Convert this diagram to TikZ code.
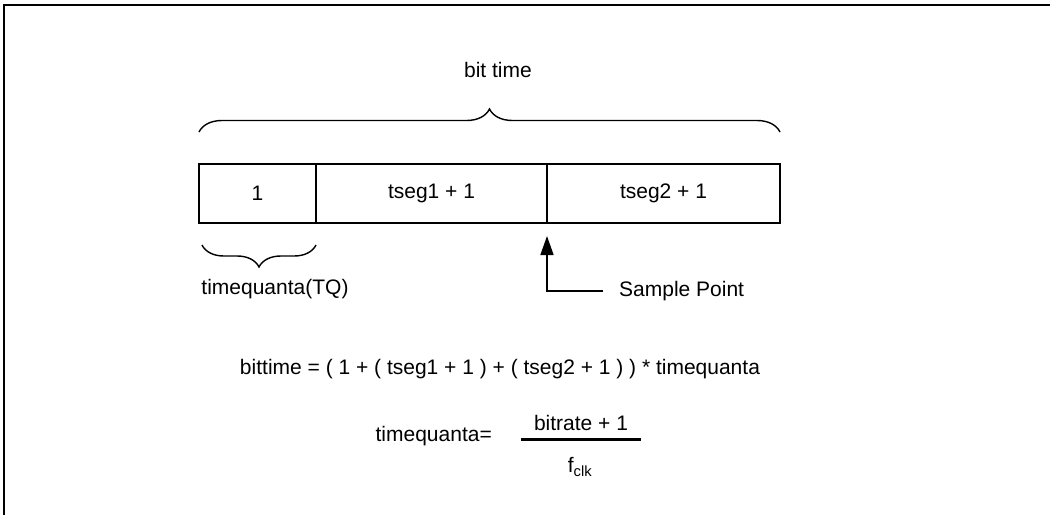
\documentclass[tikz,border=0pt]{standalone}
\usepackage{fontspec}
\setmainfont{Liberation Sans}
\usetikzlibrary{positioning, arrows.meta, decorations.pathreplacing}

\begin{document}
\begin{tikzpicture}[x=1pt, y=-1pt,
  txt/.style={font=\fontsize{21}{25}\selectfont, inner sep=0pt},
  cell/.style={draw, line width=1.5pt, txt, minimum height=59pt, outer sep=0pt},
  brc/.style={decorate, decoration={brace, amplitude=#1}, line width=1.4pt}]
\useasboundingbox (0,0) rectangle (1050,515);

% Frame
\draw[line width=2pt] (4,515) -- (4,5) -- (1050,5);

% Bit fields
\node[cell, minimum width=117pt] (one) at (257.5,193.5) {1};
\node[cell, minimum width=231pt, right=0pt of one] (segone) {tseg1 + 1};
\node[cell, minimum width=233pt, right=0pt of segone] (segtwo) {tseg2 + 1};

% Braces
\draw[brc=23pt] ([yshift=32pt]one.north west) -- ([yshift=32pt]segtwo.north east);
\node[txt] (bittime) at (498,70) {bit time};

\draw[brc=22pt] ([yshift=-22pt]one.south east) -- ([xshift=3pt,yshift=-22pt]one.south west);
\node[txt] (tq) at (275,289) {timequanta(TQ)};

% Sample point
\node[txt, anchor=west] (sample) at (619,291) {Sample Point};
\coordinate (sp) at ([yshift=-13pt]segone.south east);
\draw[line width=1.5pt, -{Triangle[length=19pt,width=13pt]}] ([xshift=-16pt]sample.west) -| (sp);

% Formulas
\node[txt] (eqbit) at (500,369) {bittime = ( 1 + ( tseg1 + 1 ) + ( tseg2 + 1 ) ) * timequanta};
\node[txt, anchor=east] (eqtq) at (492,436) {timequanta=};
\node[txt] (num) at (581,423) {bitrate + 1};
\node[txt] (den) at (580,467) {f\textsubscript{clk}};
\coordinate (barl) at (521,439);
\coordinate (barr) at (641,439);
\draw[line width=3pt] (barl) -- (barr);
\end{tikzpicture}
\end{document}
